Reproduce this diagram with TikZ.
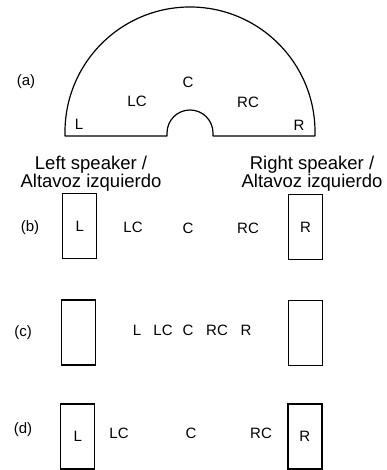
\documentclass[tikz,border=0pt]{standalone}
\usepackage{fontspec}
\setmainfont{Liberation Sans}
\begin{document}
\begin{tikzpicture}[x=1pt,y=1pt,
  lbl/.style={font=\fontsize{15}{17}\selectfont, inner sep=0pt},
  captxt/.style={font=\fontsize{18.5}{17}\selectfont, align=center, inner sep=0pt},
  spk/.style={draw, line width=1.2pt, minimum width=34pt, minimum height=65pt, inner sep=0pt, font=\fontsize{15}{17}\selectfont}]
\useasboundingbox (0,0) rectangle (386,470);
% (a) semicircle
\draw[line width=1.2pt, line join=round] (65,334) -- (65,338) arc[start angle=180,end angle=0,radius=125] -- (315,334) -- (213,334) -- (213,337) arc[start angle=0,end angle=180,radius=23] -- (167,334) -- cycle;
\node[lbl] (la) at (26,388) {(a)};
\node[lbl] (aC) at (188,388) {C};
\node[lbl] (aLC) at (137,369) {LC};
\node[lbl] (aRC) at (248,368) {RC};
\node[lbl] (aL) at (79,346) {L};
\node[lbl] (aR) at (299,345) {R};
% captions
\node[captxt] (capL) at (91,296.5) {Left speaker /\\Altavoz izquierdo};
\node[captxt] (capR) at (312,296.5) {Right speaker /\\Altavoz izquierdo};
% (b)
\node[lbl] (lb) at (30,242) {(b)};
\node[spk] (bL) at (79.7,244) {L};
\node[spk] (bR) at (305.5,243) {R};
\node[lbl] (bLC) at (133,243) {LC};
\node[lbl] (bC) at (188,242) {C};
\node[lbl] (bRC) at (248,242) {RC};
% (c)
\node[lbl] (lc) at (23,137) {(c)};
\node[spk] (cLb) at (78.3,137.5) {};
\node[spk] (cRb) at (305.5,137) {};
\node[lbl] (cL) at (137,140) {L};
\node[lbl] (cLC) at (163,140) {LC};
\node[lbl] (cC) at (188,140) {C};
\node[lbl] (cRC) at (217,140) {RC};
\node[lbl] (cR) at (246,140) {R};
% (d)
\node[lbl] (ld) at (23,40) {(d)};
\node[spk] (dL) at (77.7,33.5) {L};
\node[spk] (dR) at (304.9,33.5) {R};
\node[lbl] (dLC) at (119,37) {LC};
\node[lbl] (dC) at (191,37) {C};
\node[lbl] (dRC) at (261,37) {RC};
\end{tikzpicture}
\end{document}
